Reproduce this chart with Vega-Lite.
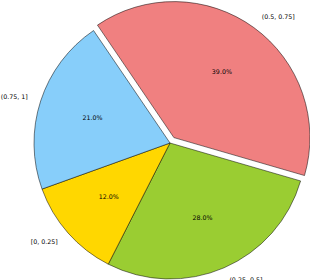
{
  "$schema": "https://vega.github.io/schema/vega-lite/v6.json",
  "autosize": {"type": "none"},
  "width": 280,
  "height": 274,
  "padding": {"left": 30, "top": 6, "right": 0, "bottom": 0},
  "background": "white",
  "config": {"view": {"stroke": null}, "text": {"font": "DejaVu Sans", "fontSize": 6.3, "fill": "black", "color": "black", "baseline": "middle"}},
  "data": {"values": [
    {"label": "(0.5, 0.75]", "share": 0.39, "k": 1},
    {"label": "(0.25, 0.5]", "share": 0.28, "k": 2},
    {"label": "[0, 0.25]", "share": 0.12, "k": 3},
    {"label": "(0.75, 1]", "share": 0.21, "k": 4}
  ]},
  "encoding": {
    "theta": {"field": "share", "type": "quantitative", "stack": true, "scale": {"range": [-0.5969, 5.6863]}},
    "order": {"field": "k", "type": "quantitative"}
  },
  "layer": [
    {
      "mark": {"type": "arc", "radius": 136, "stroke": "black", "strokeWidth": 0.5},
      "encoding": {
        "color": {"field": "label", "type": "nominal", "legend": null,
          "scale": {"domain": ["(0.5, 0.75]", "(0.25, 0.5]", "[0, 0.25]", "(0.75, 1]"], "range": ["#F08080", "#9ACD32", "#FFD700", "#87CEFA"]}},
        "opacity": {"condition": {"test": "datum.label == '(0.5, 0.75]'", "value": 0}, "value": 1}
      }
    },
    {
      "mark": {"type": "arc", "radius": 136, "stroke": "black", "strokeWidth": 0.5, "xOffset": 3.9, "yOffset": -5.4},
      "encoding": {
        "color": {"field": "label", "type": "nominal", "legend": null},
        "opacity": {"condition": {"test": "datum.label == '(0.5, 0.75]'", "value": 1}, "value": 0}
      }
    },
    {
      "mark": {"type": "text", "radius": 81.6, "align": "center", "fill": "black"},
      "encoding": {
        "text": {"condition": {"test": "datum.label != '(0.5, 0.75]'", "field": "share", "format": ".1%"}, "value": ""}
      }
    },
    {
      "mark": {"type": "text", "radius": 81.6, "align": "center", "fill": "black", "xOffset": 3.9, "yOffset": -5.4},
      "encoding": {
        "text": {"condition": {"test": "datum.label == '(0.5, 0.75]'", "field": "share", "format": ".1%"}, "value": ""}
      }
    },
    {
      "mark": {"type": "text", "radius": 149.6, "align": "left", "fill": "black"},
      "encoding": {
        "text": {"condition": {"test": "datum.label == '(0.25, 0.5]'", "field": "label"}, "value": ""}
      }
    },
    {
      "mark": {"type": "text", "radius": 149.6, "align": "left", "fill": "black", "xOffset": 3.9, "yOffset": -5.4},
      "encoding": {
        "text": {"condition": {"test": "datum.label == '(0.5, 0.75]'", "field": "label"}, "value": ""}
      }
    },
    {
      "mark": {"type": "text", "radius": 149.6, "align": "right", "fill": "black"},
      "encoding": {
        "text": {"condition": {"test": "datum.label == '[0, 0.25]' || datum.label == '(0.75, 1]'", "field": "label"}, "value": ""}
      }
    }
  ]
}
